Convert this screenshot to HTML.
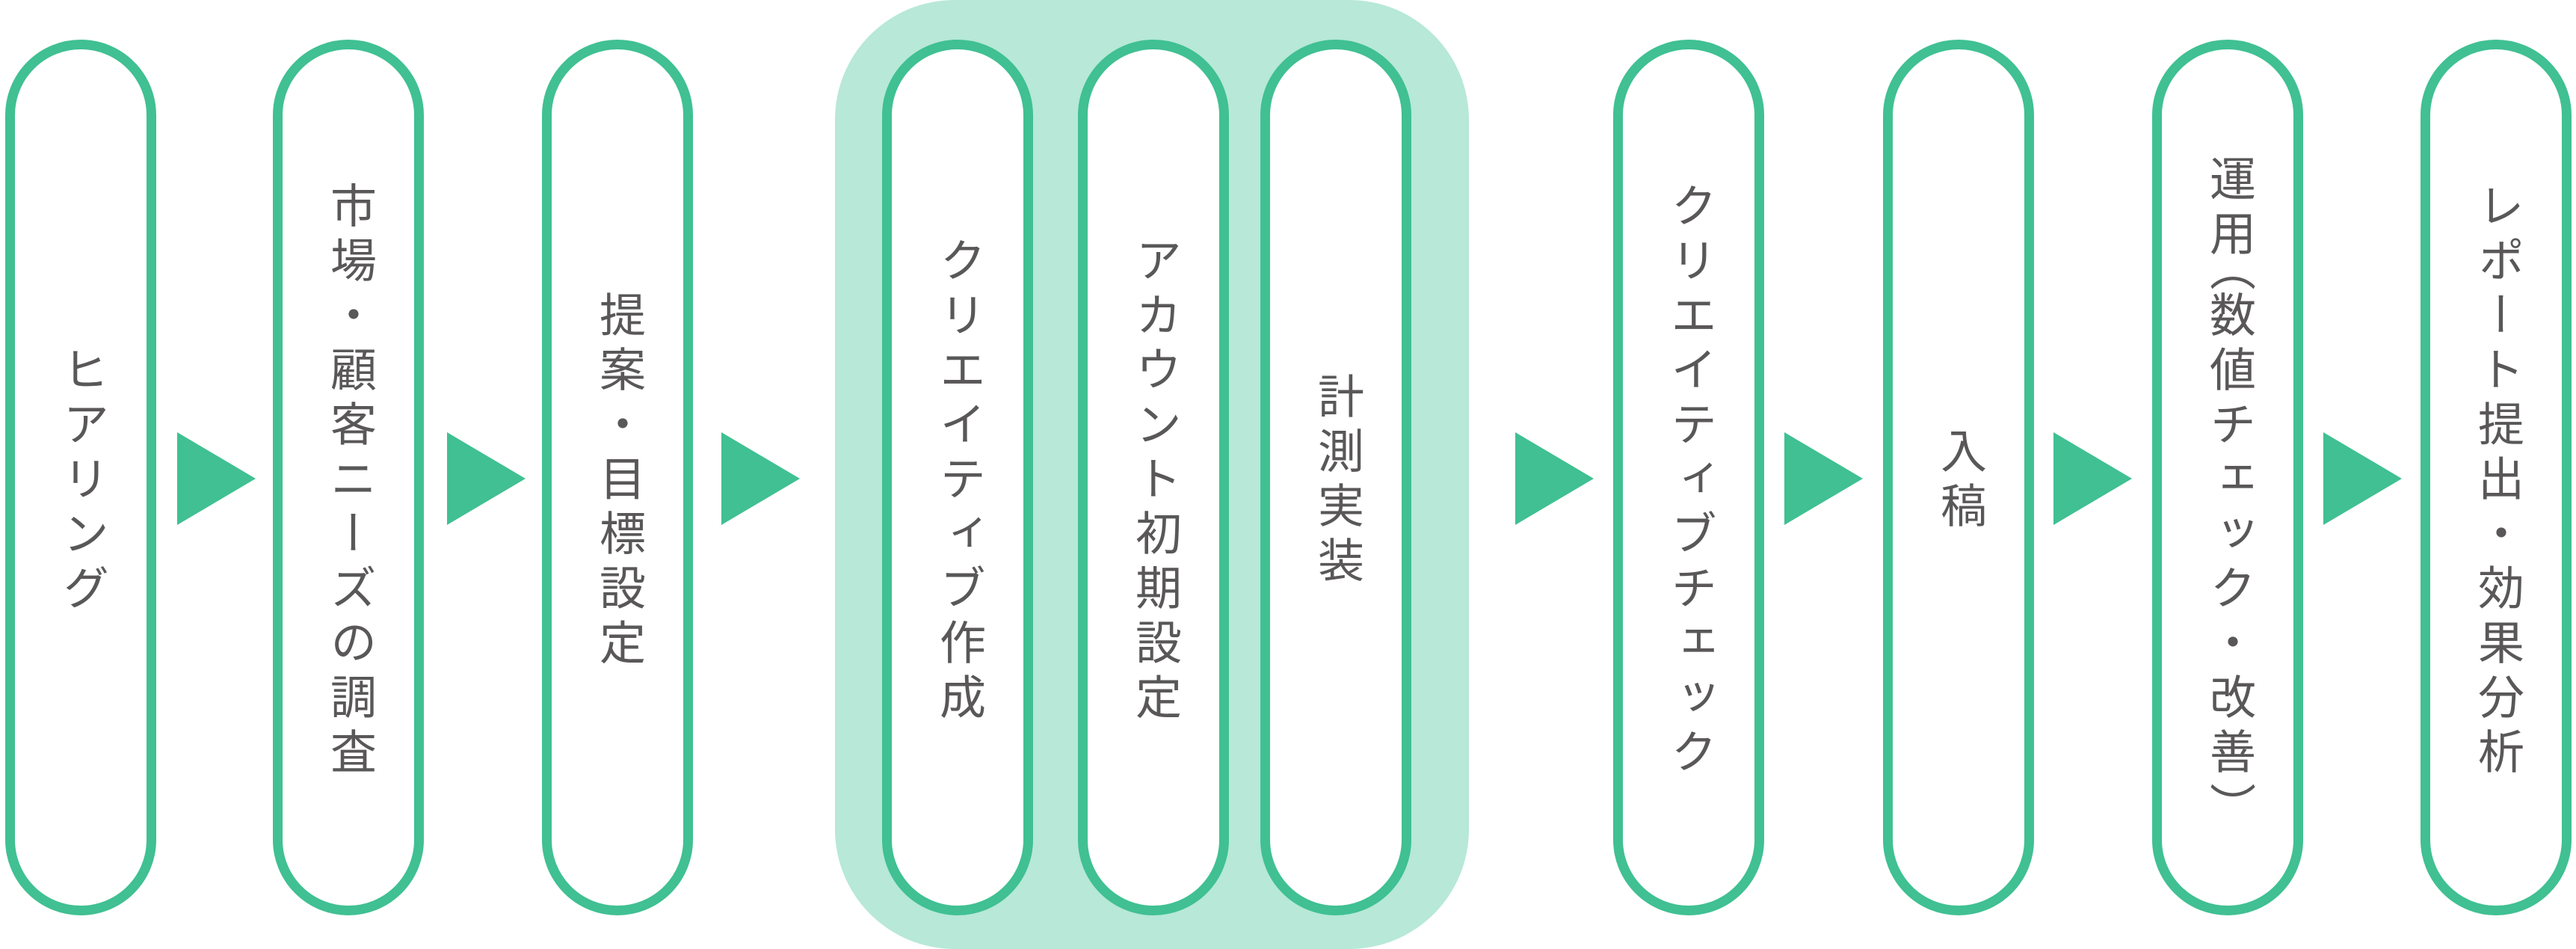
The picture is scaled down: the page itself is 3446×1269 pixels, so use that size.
<!DOCTYPE html>
<html><head><meta charset="utf-8"><style>
html,body{margin:0;padding:0;background:#fff;}
body{width:3446px;height:1269px;position:relative;overflow:hidden;font-family:"Liberation Sans","Noto Sans CJK JP",sans-serif;}
.grp{position:absolute;left:1117px;top:0;width:848px;height:1269px;background:#b7e8d8;border-radius:160px;}
.pill{position:absolute;top:53px;width:202px;height:1171px;box-sizing:border-box;border:13px solid #40c093;border-radius:101px;background:#fff;display:flex;align-items:center;justify-content:center;}
.t{writing-mode:vertical-rl;font-size:62px;font-weight:400;color:#595757;letter-spacing:11px;line-height:1;margin-bottom:-11px;white-space:nowrap;}
.po{letter-spacing:0;margin-inline-start:-26px;}
.pc{letter-spacing:0;margin-inline-end:-26px;}
.arr{position:absolute;top:578px;width:0;height:0;border-top:62px solid transparent;border-bottom:62px solid transparent;border-left:105px solid #40c093;}
</style></head><body>
<div class="grp"></div>
<div class="pill" style="left:7px"><span class="t">ヒアリング</span></div>
<div class="pill" style="left:365px"><span class="t">市場・顧客ニーズの調査</span></div>
<div class="pill" style="left:725px"><span class="t">提案・目標設定</span></div>
<div class="pill" style="left:1180px"><span class="t">クリエイティブ作成</span></div>
<div class="pill" style="left:1442px"><span class="t">アカウント初期設定</span></div>
<div class="pill" style="left:1686px"><span class="t">計測実装</span></div>
<div class="pill" style="left:2158px"><span class="t">クリエイティブチェック</span></div>
<div class="pill" style="left:2519px"><span class="t">入稿</span></div>
<div class="pill" style="left:2879px"><span class="t">運用<span class="po">（</span>数値チェック・改善<span class="pc">）</span></span></div>
<div class="pill" style="left:3238px"><span class="t">レポート提出・効果分析</span></div>
<div class="arr" style="left:237px"></div>
<div class="arr" style="left:598px"></div>
<div class="arr" style="left:965px"></div>
<div class="arr" style="left:2027px"></div>
<div class="arr" style="left:2387px"></div>
<div class="arr" style="left:2747px"></div>
<div class="arr" style="left:3108px"></div>
</body></html>
